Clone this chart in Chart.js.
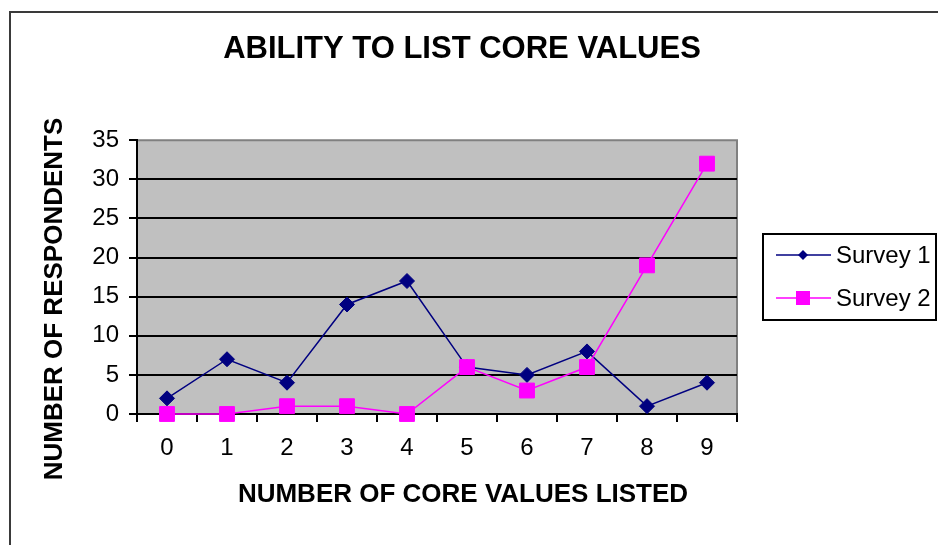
<!DOCTYPE html>
<html>
<head>
<meta charset="utf-8">
<script src="https://cdn.jsdelivr.net/npm/chart.js@4/dist/chart.umd.min.js"></script>
<style>
  html, body { margin: 0; padding: 0; background: #fff; }
  #wrap { width: 938px; height: 545px; }
</style>
</head>
<body>
<div id="wrap"><canvas id="coreChart" width="938" height="545"></canvas></div>
<script>
var coresListed = ['0', '1', '2', '3', '4', '5', '6', '7', '8', '9'];
var survey1 = [2, 7, 4, 14, 17, 6, 5, 8, 1, 4];
var survey2 = [0, 0, 1, 1, 0, 6, 3, 6, 19, 32];
var seriesNames = ['Survey 1', 'Survey 2'];
var yTicks = [0, 5, 10, 15, 20, 25, 30, 35];

var tickFont = "'Liberation Sans Narrow', 'Arial Narrow', 'Liberation Sans', Arial, sans-serif";
var boldFont = "'Liberation Sans', Arial, sans-serif";

// frame, grey plot background, axis titles and the boxed legend
var sheetPlugin = {
    id: 'sheet',
    beforeDraw: function (chart) {
        var c = chart.ctx, a = chart.chartArea;
        c.save();
        c.strokeStyle = '#3a3a3a';
        c.lineWidth = 2;
        c.beginPath();
        c.moveTo(10, 545);
        c.lineTo(10, 12);
        c.lineTo(938, 12);
        c.stroke();

        c.fillStyle = '#c0c0c0';
        c.fillRect(a.left, a.top, a.right - a.left, a.bottom - a.top);
        c.strokeStyle = '#808080';
        c.lineWidth = 2;
        c.beginPath();
        c.moveTo(a.left, a.top);
        c.lineTo(a.right, a.top);
        c.lineTo(a.right, a.bottom);
        c.stroke();

        c.fillStyle = '#000';
        c.font = 'bold 26px ' + boldFont;
        c.textAlign = 'center';
        c.textBaseline = 'middle';
        c.fillText('NUMBER OF CORE VALUES LISTED', 463, 495);
        c.save();
        c.translate(55, 299);
        c.rotate(-Math.PI / 2);
        c.fillText('NUMBER OF RESPONDENTS', 0, 0);
        c.restore();

        // legend box
        c.fillStyle = '#fff';
        c.fillRect(763, 234, 173, 86);
        c.strokeStyle = '#000';
        c.lineWidth = 2;
        c.strokeRect(763, 234, 173, 86);
        var rows = [255, 298];
        chart.data.datasets.forEach(function (ds, i) {
            var y = rows[i];
            c.strokeStyle = ds.borderColor;
            c.lineWidth = 1.5;
            c.beginPath();
            c.moveTo(776, y);
            c.lineTo(831, y);
            c.stroke();
            c.fillStyle = ds.backgroundColor;
            c.beginPath();
            if (ds.pointStyle === 'rectRot') {
                c.moveTo(803 - 5, y);
                c.lineTo(803, y - 5);
                c.lineTo(803 + 5, y);
                c.lineTo(803, y + 5);
            } else {
                c.rect(803 - 7, y - 7, 14, 14);
            }
            c.closePath();
            c.fill();
            c.fillStyle = '#000';
            c.font = '24px ' + tickFont;
            c.textAlign = 'left';
            c.fillText(ds.label, 836, y + 1);
        });
        c.restore();
    }
};

var ctx = document.getElementById('coreChart').getContext('2d');
var coreChart = new Chart(ctx, {
    type: 'line',
    data: {
        labels: coresListed,
        datasets: [{
            label: seriesNames[0],
            data: survey1,
            borderColor: '#000080',
            backgroundColor: '#000080',
            borderWidth: 1.5,
            pointStyle: 'rectRot',
            pointRadius: 7.5,
            pointBorderWidth: 1,
            tension: 0,
            clip: false,
            order: 1
        }, {
            label: seriesNames[1],
            data: survey2,
            borderColor: '#ff00ff',
            backgroundColor: '#ff00ff',
            borderWidth: 1.5,
            pointStyle: 'rect',
            pointRadius: 10.5,
            pointBorderWidth: 1,
            tension: 0,
            clip: false,
            order: 0
        }]
    },
    options: {
        responsive: false,
        animation: false,
        layout: { padding: { top: 0, left: 0, right: 14, bottom: 0 } },
        plugins: {
            legend: { display: false },
            tooltip: { enabled: false },
            title: {
                display: true,
                text: 'ABILITY TO LIST CORE VALUES',
                color: '#000',
                font: { family: boldFont, size: 31, weight: 'bold' },
                padding: { top: 31, bottom: 72 }
            }
        },
        scales: {
            x: {
                offset: true,
                grid: {
                    offset: true,
                    drawOnChartArea: false,
                    drawTicks: true,
                    tickLength: 8,
                    color: '#000',
                    lineWidth: 2
                },
                border: { color: '#000', width: 2 },
                ticks: {
                    color: '#000',
                    padding: 12,
                    font: { family: tickFont, size: 24 }
                },
                afterFit: function (s) { s.height = 131; }
            },
            y: {
                min: 0,
                max: 35,
                afterBuildTicks: function (s) {
                    s.ticks = yTicks.map(function (v) { return { value: v }; });
                },
                grid: {
                    color: function (c) { return c.tick && c.tick.value === 35 ? 'rgba(0,0,0,0)' : '#000'; },
                    tickColor: '#000',
                    lineWidth: 2,
                    drawTicks: true,
                    tickLength: 8
                },
                border: { color: '#000', width: 2 },
                ticks: {
                    color: '#000',
                    padding: 10,
                    font: { family: tickFont, size: 24 }
                },
                afterFit: function (s) { s.width = 137; }
            },
            pad: {
                type: 'linear',
                position: 'right',
                display: true,
                grid: { display: false, drawTicks: false },
                border: { display: false },
                ticks: { display: false },
                afterFit: function (s) { s.width = 187; }
            }
        }
    },
    plugins: [sheetPlugin]
});
</script>
</body>
</html>
